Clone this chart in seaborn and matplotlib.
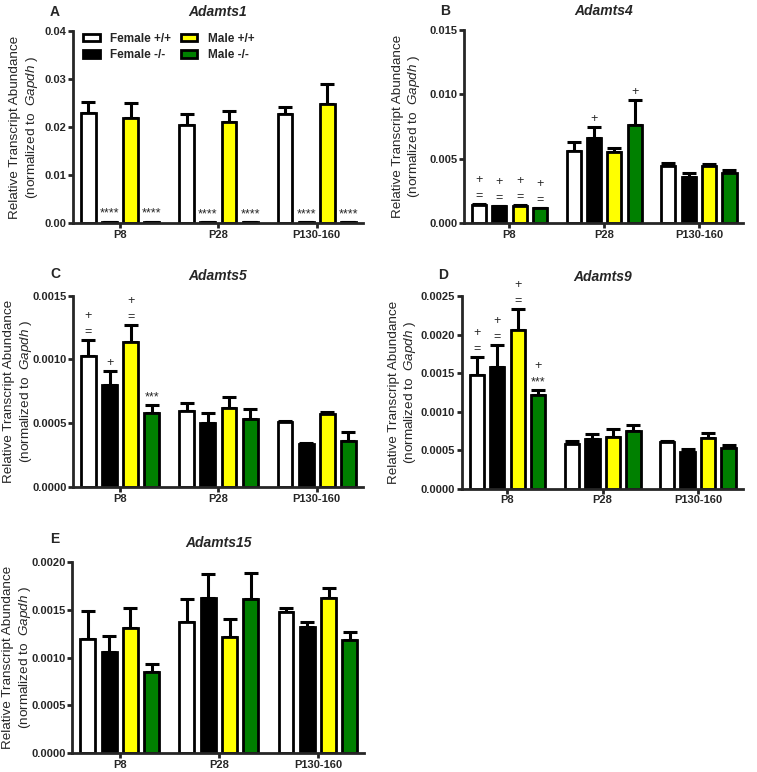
import numpy as np
import pandas as pd
import matplotlib
matplotlib.use("Agg")
import matplotlib.pyplot as plt
import seaborn as sns

ages = ["P8", "P28", "P130-160"]
groups = ["Female +/+", "Female -/-", "Male +/+", "Male -/-"]
group_colors = ["#FFFFFF", "#000000", "#FFFF00", "#008000"]

# panel A - Adamts1
a1_mean = {"Female +/+": [0.0230, 0.0205, 0.0227],
           "Female -/-": [0.0003, 0.0002, 0.0002],
           "Male +/+": [0.0219, 0.0211, 0.0248],
           "Male -/-": [0.0003, 0.0002, 0.0002]}
a1_sem = {"Female +/+": [0.0022, 0.0021, 0.0014],
          "Female -/-": [0.0, 0.0, 0.0],
          "Male +/+": [0.0031, 0.0022, 0.0041],
          "Male -/-": [0.0, 0.0, 0.0]}
a1_marks = {"Female -/-": ["****", "****", "****"],
            "Male -/-": ["****", "****", "****"]}

# panel B - Adamts4
a4_mean = {"Female +/+": [0.0014, 0.0056, 0.0044],
           "Female -/-": [0.0013, 0.0066, 0.0036],
           "Male +/+": [0.00135, 0.0055, 0.0044],
           "Male -/-": [0.00114, 0.0076, 0.0039]}
a4_sem = {"Female +/+": [0.00005, 0.0007, 0.0003],
          "Female -/-": [0.00003, 0.00085, 0.0003],
          "Male +/+": [0.00003, 0.0003, 0.0002],
          "Male -/-": [0.00003, 0.0020, 0.0002]}
a4_marks = {"Female +/+": ["+\n=", "", ""],
            "Female -/-": ["+\n=", "+", ""],
            "Male +/+": ["+\n=", "", ""],
            "Male -/-": ["+\n=", "+", ""]}

# panel C - Adamts5
a5_mean = {"Female +/+": [0.00103, 0.00060, 0.00051],
           "Female -/-": [0.00080, 0.00050, 0.00034],
           "Male +/+": [0.00114, 0.00062, 0.00057],
           "Male -/-": [0.00058, 0.00053, 0.00036]}
a5_sem = {"Female +/+": [0.00012, 0.00006, 0.00001],
          "Female -/-": [0.00011, 0.00008, 0.000005],
          "Male +/+": [0.00013, 0.00009, 0.00002],
          "Male -/-": [0.00006, 0.00008, 0.00007]}
a5_marks = {"Female +/+": ["+\n=", "", ""],
            "Female -/-": ["+", "", ""],
            "Male +/+": ["+\n=", "", ""],
            "Male -/-": ["***", "", ""]}

# panel D - Adamts9
a9_mean = {"Female +/+": [0.00148, 0.00058, 0.00061],
           "Female -/-": [0.00158, 0.00065, 0.00048],
           "Male +/+": [0.00207, 0.00067, 0.00066],
           "Male -/-": [0.00122, 0.00075, 0.00053]}
a9_sem = {"Female +/+": [0.00023, 0.00004, 0.00001],
          "Female -/-": [0.00029, 0.00006, 0.00003],
          "Male +/+": [0.00027, 0.00010, 0.00007],
          "Male -/-": [0.00006, 0.00008, 0.00004]}
a9_marks = {"Female +/+": ["+\n=", "", ""],
            "Female -/-": ["+\n=", "", ""],
            "Male +/+": ["+\n=", "", ""],
            "Male -/-": ["+\n***", "", ""]}

# panel E - Adamts15
a15_mean = {"Female +/+": [0.00119, 0.00137, 0.00148],
            "Female -/-": [0.00106, 0.00162, 0.00132],
            "Male +/+": [0.00131, 0.00122, 0.00162],
            "Male -/-": [0.00085, 0.00161, 0.00118]}
a15_sem = {"Female +/+": [0.00030, 0.00024, 0.00004],
           "Female -/-": [0.00017, 0.00025, 0.00005],
           "Male +/+": [0.00021, 0.00018, 0.00011],
           "Male -/-": [0.00008, 0.00028, 0.00009]}

sns.set_style("ticks")
plt.rcParams["font.family"] = ["Liberation Sans", "DejaVu Sans"]
plt.rcParams["mathtext.fontset"] = "custom"
plt.rcParams["mathtext.rm"] = "Liberation Sans"
plt.rcParams["mathtext.it"] = "Liberation Sans:italic"

LW = 2.0


def long_df(means):
    rows = []
    for g in groups:
        for age, v in zip(ages, means[g]):
            rows.append({"age": age, "group": g, "value": v})
    return pd.DataFrame(rows)


def panel(fig, rect, letter, letter_xy, title, means, sems, marks, ymax, step, fmt,
          label_x, legend=False):
    ax = fig.add_axes(rect)
    df = long_df(means)
    sns.barplot(data=df, x="age", y="value", hue="group", order=ages, hue_order=groups,
                palette=group_colors, saturation=1, errorbar=None, width=0.86, gap=0.3,
                edgecolor="black", linewidth=LW, ax=ax, legend=legend, zorder=2)
    for g, cont in zip(groups, ax.containers):
        xs = [b.get_x() + b.get_width() / 2 for b in cont]
        hs = [b.get_height() for b in cont]
        errs = sems[g]
        ax.errorbar(xs, hs, yerr=[np.zeros(len(errs)), errs], fmt="none", ecolor="black",
                    elinewidth=2.2, capsize=5, capthick=2.2, zorder=1)
        if g in marks:
            for x, h, e, m in zip(xs, hs, errs, marks[g]):
                if m:
                    ax.annotate(m, (x, h + e), xytext=(0, 1.5), textcoords="offset points",
                                ha="center", va="bottom", fontsize=9, linespacing=1.45)
    ax.set_xlim(-0.48, 2.47)
    ax.set_ylim(0, ymax)
    ticks = np.arange(0, ymax + step / 2, step)
    ax.set_yticks(ticks)
    ax.set_yticklabels([fmt.format(t) for t in ticks], fontweight="bold", fontsize=8)
    ax.set_xticks(range(3))
    ax.set_xticklabels(ages, fontweight="bold", fontsize=8)
    ax.set_xlabel("")
    ax.set_ylabel("Relative Transcript Abundance\n(normalized to  $\\it{Gapdh}$ )",
                  fontsize=9.7)
    ax.yaxis.set_label_coords(label_x, 0.5)
    ax.set_title(title, fontweight="bold", fontstyle="italic", fontsize=10, pad=11)
    sns.despine(ax=ax)
    for s in ["left", "bottom"]:
        ax.spines[s].set_linewidth(LW)
    ax.tick_params(width=LW, length=3.5, direction="out", pad=1.2)
    fig.text(letter_xy[0], letter_xy[1], letter, fontweight="bold", fontsize=10,
             ha="center", va="center")
    if legend:
        sns.move_legend(ax, "upper left", bbox_to_anchor=(0.035, 0.99), ncol=2, frameon=False,
                        title=None, prop={"weight": "bold", "size": 8.5},
                        handlelength=1.4, handleheight=0.6, handletextpad=0.9,
                        columnspacing=0.8, labelspacing=0.35, borderpad=0, borderaxespad=0)
    return ax


fig = plt.figure(figsize=(7.57, 7.72), dpi=100)

panel(fig, [0.0964, 0.711, 0.383, 0.249], "A", (55 / 757, 1 - 12 / 772), "Adamts1",
      a1_mean, a1_sem, a1_marks, 0.04, 0.01, "{:.2f}", -0.115, legend=True)
panel(fig, [0.613, 0.711, 0.369, 0.250], "B", (445 / 757, 1 - 11 / 772), "Adamts4",
      a4_mean, a4_sem, a4_marks, 0.015, 0.005, "{:.3f}", -0.15)
panel(fig, [0.0964, 0.369, 0.383, 0.248], "C", (55 / 757, 1 - 274 / 772), "Adamts5",
      a5_mean, a5_sem, a5_marks, 0.0015, 0.0005, "{:.4f}", -0.136)
panel(fig, [0.610, 0.367, 0.371, 0.249], "D", (443 / 757, 1 - 275 / 772), "Adamts9",
      a9_mean, a9_sem, a9_marks, 0.0025, 0.0005, "{:.4f}", -0.155)
panel(fig, [0.0955, 0.0246, 0.386, 0.2474], "E", (55 / 757, 1 - 539 / 772), "Adamts15",
      a15_mean, a15_sem, {}, 0.0020, 0.0005, "{:.4f}", -0.136)

fig.savefig("out.png", dpi=100)
